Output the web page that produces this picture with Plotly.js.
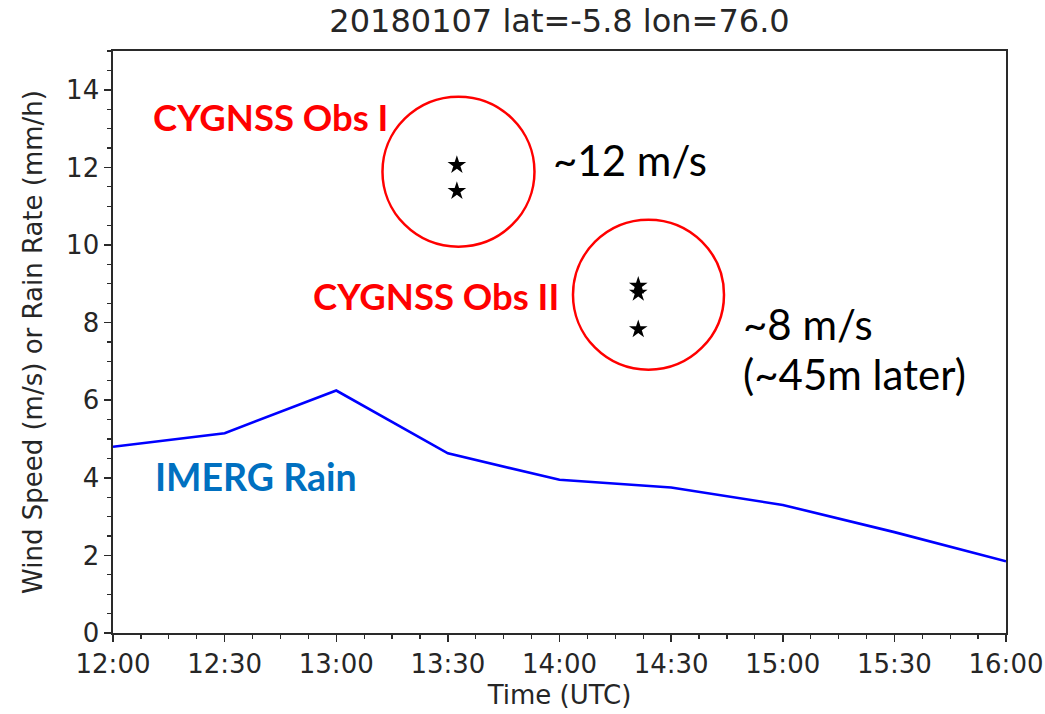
<!DOCTYPE html>
<html>
<head>
<meta charset="utf-8">
<script src="https://cdn.plot.ly/plotly-3.0.1.min.js"></script>
<style>html,body{margin:0;padding:0;background:#fff;}#chart{width:1045px;height:714px;}</style>
</head>
<body>
<div id="chart"></div>
<script>
// IMERG rain rate (mm/h) at half-hourly times
const rainTimes = ['2018-01-07 12:00','2018-01-07 12:30','2018-01-07 13:00','2018-01-07 13:30','2018-01-07 14:00','2018-01-07 14:30','2018-01-07 15:00','2018-01-07 15:30','2018-01-07 16:00'];
const rainRate = [4.8, 5.15, 6.25, 4.63, 3.95, 3.75, 3.3, 2.6, 1.85];

// CYGNSS wind speed observations (m/s)
const obsTimes = ['2018-01-07 13:32:25','2018-01-07 13:32:25','2018-01-07 14:21:10','2018-01-07 14:21:10','2018-01-07 14:21:10'];
const obsWind = [12.06, 11.39, 8.95, 8.77, 7.83];

const xTickVals = ['2018-01-07 12:00','2018-01-07 12:30','2018-01-07 13:00','2018-01-07 13:30','2018-01-07 14:00','2018-01-07 14:30','2018-01-07 15:00','2018-01-07 15:30','2018-01-07 16:00'];
const xTickText = ['12:00','12:30','13:00','13:30','14:00','14:30','15:00','15:30','16:00'];
const yTickVals = [0,2,4,6,8,10,12,14];

const axisFont = {family:'DejaVu Sans', size:26, color:'#262626'};
const frameColor = '#2a2a2a';

const traces = [
  {x: rainTimes, y: rainRate, type:'scatter', mode:'lines', line:{color:'#0000ff', width:2.6}, hoverinfo:'skip'},
  {x: obsTimes, y: obsWind, type:'scatter', mode:'markers', marker:{symbol:'star', size:14, color:'#000000'}, hoverinfo:'skip'}
];

const L=113, R=1006, T=51, B=633;
function px(xp){return (xp-L)/(R-L);}
function py(yp){return (B-yp)/(B-T);}

const annFontRed = {family:'Lato', size:36.5, color:'#ff0000', weight:'bold'};
const annFontBlack = {family:'Lato', size:42, color:'#000000'};

const layout = {
  width:1045, height:714,
  margin:{l:L, r:1045-R, t:T, b:714-B, pad:0},
  paper_bgcolor:'#ffffff', plot_bgcolor:'#ffffff',
  showlegend:false,
  title:{text:'20180107 lat=-5.8 lon=76.0', font:{family:'DejaVu Sans', size:32, color:'#262626'}, x:0.5, xref:'paper', xanchor:'center', y:1-21/714, yanchor:'middle'},
  xaxis:{
    type:'date', range:['2018-01-07 12:00','2018-01-07 16:00'],
    tickvals:xTickVals, ticktext:xTickText, ticks:'outside', ticklen:7, tickwidth:1.5, tickcolor:frameColor,
    minor:{dtick:450000, ticks:'outside', ticklen:4, tickwidth:1.2, tickcolor:frameColor, showgrid:false},
    showgrid:false, zeroline:false, showline:true, linecolor:frameColor, linewidth:1.6, mirror:true,
    tickfont:axisFont, title:{text:'Time (UTC)', font:axisFont, standoff:8}
  },
  yaxis:{
    range:[0,15], tickvals:yTickVals, ticks:'outside', ticklen:7, tickwidth:1.5, tickcolor:frameColor,
    minor:{dtick:0.5, ticks:'outside', ticklen:4, tickwidth:1.2, tickcolor:frameColor, showgrid:false},
    showgrid:false, zeroline:false, showline:true, linecolor:frameColor, linewidth:1.6, mirror:true,
    tickfont:axisFont, title:{text:'Wind Speed (m/s) or Rain Rate (mm/h)', font:axisFont, standoff:16}
  },
  shapes:[
    {type:'circle', xref:'x', yref:'y', xsizemode:'pixel', ysizemode:'pixel', xanchor:'2018-01-07 13:32:51', yanchor:11.89, x0:-76, x1:76, y0:-75, y1:75, line:{color:'#ff0000', width:2.5}},
    {type:'circle', xref:'x', yref:'y', xsizemode:'pixel', ysizemode:'pixel', xanchor:'2018-01-07 14:23:55', yanchor:8.72, x0:-75.5, x1:75.5, y0:-75, y1:75, line:{color:'#ff0000', width:2.5}}
  ],
  annotations:[
    {text:'CYGNSS Obs I', xref:'paper', yref:'paper', x:px(151), y:py(117), xanchor:'left', yanchor:'middle', showarrow:false, font:annFontRed},
    {text:'~12 m/s', xref:'paper', yref:'paper', x:px(551), y:py(160), xanchor:'left', yanchor:'middle', showarrow:false, font:annFontBlack},
    {text:'CYGNSS Obs II', xref:'paper', yref:'paper', x:px(311), y:py(296), xanchor:'left', yanchor:'middle', showarrow:false, font:annFontRed},
    {text:'~8 m/s', xref:'paper', yref:'paper', x:px(741), y:py(324), xanchor:'left', yanchor:'middle', showarrow:false, font:annFontBlack},
    {text:'(~45m later)', xref:'paper', yref:'paper', x:px(741), y:py(374), xanchor:'left', yanchor:'middle', showarrow:false, font:annFontBlack},
    {text:'IMERG Rain', xref:'paper', yref:'paper', x:px(153), y:py(476), xanchor:'left', yanchor:'middle', showarrow:false, font:{family:'Lato', size:37.5, color:'#0070C0', weight:'bold'}}
  ]
};

Plotly.newPlot('chart', traces, layout, {staticPlot:true, displayModeBar:false});
</script>
</body>
</html>
